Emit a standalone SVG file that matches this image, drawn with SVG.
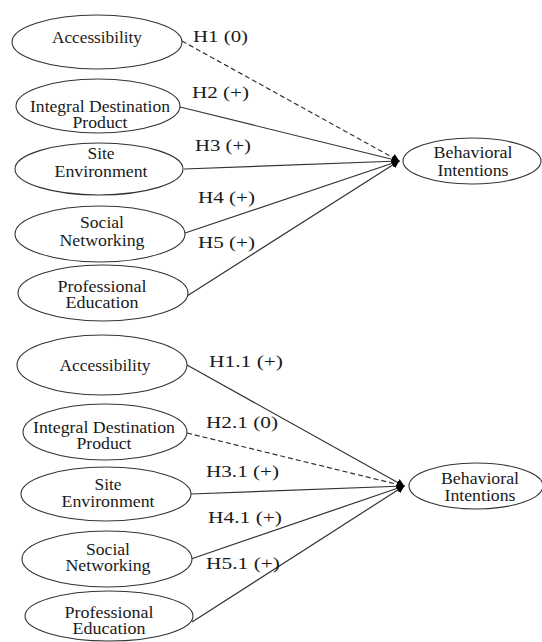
<svg xmlns="http://www.w3.org/2000/svg" width="542" height="642" viewBox="0 0 542 642">
<style>
.n{fill:#fff;stroke:#333;stroke-width:1.1}
.t{font-family:'Liberation Serif','DejaVu Serif','Noto Serif','Times New Roman',Times,serif;font-size:16px;fill:#1a1a1a;text-anchor:middle}
.l{font-family:'Liberation Serif','DejaVu Serif','Noto Serif','Times New Roman',Times,serif;font-size:17px;fill:#1a1a1a}
.c{stroke:#333;stroke-width:1.2;fill:none;marker-end:url(#ah)}
.d{stroke-dasharray:5 3}
</style>
<defs>
<marker id="ah" viewBox="0 0 10 10" refX="9" refY="5" markerWidth="8" markerHeight="8" markerUnits="userSpaceOnUse" orient="auto">
<path d="M0,0 L10,5 L0,10 z" fill="#000"/>
</marker>
</defs>
<rect width="542" height="642" fill="#fff"/>
<g id="connectors">
<line class="c d" x1="182" y1="41" x2="399" y2="161"/>
<line class="c" x1="180" y1="107" x2="399" y2="161"/>
<line class="c" x1="184" y1="169" x2="399" y2="161"/>
<line class="c" x1="185" y1="233" x2="399" y2="161"/>
<line class="c" x1="187" y1="296" x2="399" y2="161"/>
<line class="c" x1="187" y1="365" x2="404" y2="486"/>
<line class="c d" x1="187" y1="433" x2="404" y2="486"/>
<line class="c" x1="191" y1="494" x2="404" y2="486"/>
<line class="c" x1="191" y1="559" x2="404" y2="486"/>
<line class="c" x1="192" y1="622" x2="404" y2="486"/>
</g>
<g id="labels">
<text class="l" x="193" y="42" textLength="55" lengthAdjust="spacingAndGlyphs">H1 (0)</text>
<text class="l" x="192" y="98" textLength="57" lengthAdjust="spacingAndGlyphs">H2 (+)</text>
<text class="l" x="195" y="151" textLength="56" lengthAdjust="spacingAndGlyphs">H3 (+)</text>
<text class="l" x="198" y="203" textLength="57" lengthAdjust="spacingAndGlyphs">H4 (+)</text>
<text class="l" x="198" y="248" textLength="57" lengthAdjust="spacingAndGlyphs">H5 (+)</text>
<text class="l" x="209" y="367" textLength="74" lengthAdjust="spacingAndGlyphs">H1.1 (+)</text>
<text class="l" x="206" y="428" textLength="72" lengthAdjust="spacingAndGlyphs">H2.1 (0)</text>
<text class="l" x="206" y="477" textLength="73" lengthAdjust="spacingAndGlyphs">H3.1 (+)</text>
<text class="l" x="208" y="523" textLength="74" lengthAdjust="spacingAndGlyphs">H4.1 (+)</text>
<text class="l" x="206" y="569" textLength="74" lengthAdjust="spacingAndGlyphs">H5.1 (+)</text>
</g>
<g id="acc1"><ellipse class="n" cx="97" cy="42" rx="85" ry="27"/><text class="t" x="97" y="43" textLength="90" lengthAdjust="spacingAndGlyphs">Accessibility</text></g>
<g id="idp1"><ellipse class="n" cx="98" cy="106" rx="82" ry="27"/><text class="t" x="100" y="112" textLength="140" lengthAdjust="spacingAndGlyphs">Integral Destination</text><text class="t" x="100" y="128" textLength="55" lengthAdjust="spacingAndGlyphs">Product</text></g>
<g id="site1"><ellipse class="n" cx="99" cy="169" rx="84" ry="26"/><text class="t" x="101" y="159" textLength="27" lengthAdjust="spacingAndGlyphs">Site</text><text class="t" x="101" y="177" textLength="93" lengthAdjust="spacingAndGlyphs">Environment</text></g>
<g id="soc1"><ellipse class="n" cx="100" cy="234" rx="85" ry="28"/><text class="t" x="102" y="228" textLength="44" lengthAdjust="spacingAndGlyphs">Social</text><text class="t" x="102" y="246" textLength="85" lengthAdjust="spacingAndGlyphs">Networking</text></g>
<g id="pro1"><ellipse class="n" cx="103" cy="293" rx="85" ry="28"/><text class="t" x="102" y="292" textLength="89" lengthAdjust="spacingAndGlyphs">Professional</text><text class="t" x="102" y="308" textLength="73" lengthAdjust="spacingAndGlyphs">Education</text></g>
<g id="bi1"><ellipse class="n" cx="472" cy="161" rx="69" ry="23"/><text class="t" x="473" y="158" textLength="79" lengthAdjust="spacingAndGlyphs">Behavioral</text><text class="t" x="473" y="176" textLength="71" lengthAdjust="spacingAndGlyphs">Intentions</text></g>
<g id="acc2"><ellipse class="n" cx="102" cy="365" rx="85" ry="30"/><text class="t" x="105" y="371" textLength="91" lengthAdjust="spacingAndGlyphs">Accessibility</text></g>
<g id="idp2"><ellipse class="n" cx="105" cy="432" rx="82" ry="28"/><text class="t" x="104" y="433" textLength="142" lengthAdjust="spacingAndGlyphs">Integral Destination</text><text class="t" x="104" y="449" textLength="55" lengthAdjust="spacingAndGlyphs">Product</text></g>
<g id="site2"><ellipse class="n" cx="106" cy="494" rx="85" ry="27"/><text class="t" x="108" y="490" textLength="27" lengthAdjust="spacingAndGlyphs">Site</text><text class="t" x="108" y="507" textLength="93" lengthAdjust="spacingAndGlyphs">Environment</text></g>
<g id="soc2"><ellipse class="n" cx="107" cy="559" rx="85" ry="28"/><text class="t" x="108" y="555" textLength="44" lengthAdjust="spacingAndGlyphs">Social</text><text class="t" x="108" y="571" textLength="85" lengthAdjust="spacingAndGlyphs">Networking</text></g>
<g id="pro2"><ellipse class="n" cx="109" cy="616" rx="84" ry="25"/><text class="t" x="109" y="618" textLength="89" lengthAdjust="spacingAndGlyphs">Professional</text><text class="t" x="109" y="634" textLength="73" lengthAdjust="spacingAndGlyphs">Education</text></g>
<g id="bi2"><ellipse class="n" cx="476" cy="486" rx="67" ry="23"/><text class="t" x="480" y="484" textLength="78" lengthAdjust="spacingAndGlyphs">Behavioral</text><text class="t" x="480" y="501" textLength="71" lengthAdjust="spacingAndGlyphs">Intentions</text></g>
</svg>
